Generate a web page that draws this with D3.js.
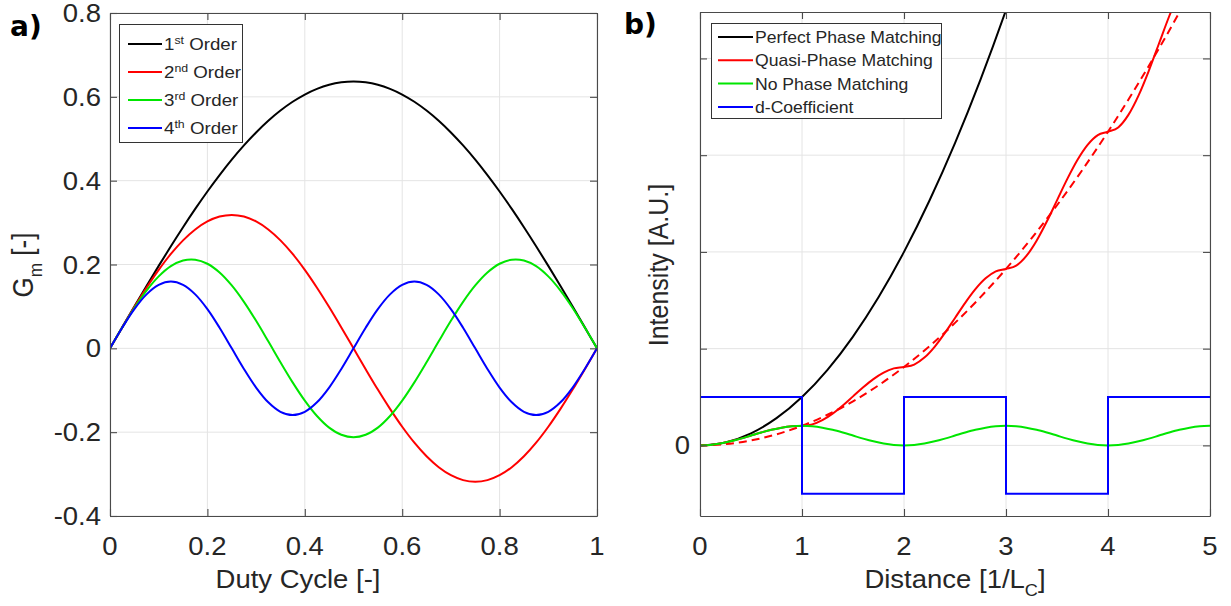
<!DOCTYPE html>
<html><head><meta charset="utf-8">
<script src="https://cdn.jsdelivr.net/npm/d3@7"></script>
<style>body{margin:0;background:#fff;}</style>
</head><body>
<svg id="chart" width="1231" height="606"></svg>
<script>
// ---------- Panel a data ----------
const dutyCycle = [0,0.025,0.05,0.075,0.1,0.125,0.15,0.175,0.2,0.225,0.25,0.275,0.3,0.325,0.35,0.375,0.4,0.425,0.45,0.475,0.5,0.525,0.55,0.575,0.6,0.625,0.65,0.675,0.7,0.725,0.75,0.775,0.8,0.825,0.85,0.875,0.9,0.925,0.95,0.975,1];
const order1 = [0,0.0500,0.0996,0.1486,0.1967,0.2436,0.2890,0.3326,0.3742,0.4134,0.4502,0.4841,0.5150,0.5428,0.5672,0.5882,0.6055,0.6190,0.6288,0.6346,0.6366,0.6346,0.6288,0.6190,0.6055,0.5882,0.5672,0.5428,0.5150,0.4841,0.4502,0.4134,0.3742,0.3326,0.2890,0.2436,0.1967,0.1486,0.0996,0.0500,0];
const order2 = [0,0.0498,0.0984,0.1445,0.1871,0.2251,0.2575,0.2836,0.3027,0.3144,0.3183,0.3144,0.3027,0.2836,0.2575,0.2251,0.1871,0.1445,0.0984,0.0498,0,-0.0498,-0.0984,-0.1445,-0.1871,-0.2251,-0.2575,-0.2836,-0.3027,-0.3144,-0.3183,-0.3144,-0.3027,-0.2836,-0.2575,-0.2251,-0.1871,-0.1445,-0.0984,-0.0498,0];
const order3 = [0,0.0495,0.0963,0.1378,0.1717,0.1961,0.2096,0.2115,0.2018,0.1809,0.1500,0.1109,0.0656,0.0167,-0.0332,-0.0812,-0.1247,-0.1614,-0.1891,-0.2063,-0.2122,-0.2063,-0.1891,-0.1614,-0.1247,-0.0812,-0.0332,0.0167,0.0656,0.1109,0.1500,0.1809,0.2018,0.2115,0.2096,0.1961,0.1717,0.1378,0.0963,0.0495,0];
const order4 = [0,0.0492,0.0936,0.1288,0.1514,0.1592,0.1514,0.1288,0.0936,0.0492,0,-0.0492,-0.0936,-0.1288,-0.1514,-0.1592,-0.1514,-0.1288,-0.0936,-0.0492,0,0.0492,0.0936,0.1288,0.1514,0.1592,0.1514,0.1288,0.0936,0.0492,0,-0.0492,-0.0936,-0.1288,-0.1514,-0.1592,-0.1514,-0.1288,-0.0936,-0.0492,0];
const orderNumbers = ["1","2","3","4"];
const orderSuffixes = ["st","nd","rd","th"];
const dutyTicks = [0,0.2,0.4,0.6,0.8,1];
const dutyTickLabels = ["0","0.2","0.4","0.6","0.8","1"];
const gmTicks = [-0.4,-0.2,0,0.2,0.4,0.6,0.8];
const gmTickLabels = ["-0.4","-0.2","0","0.2","0.4","0.6","0.8"];

// ---------- Panel b data ----------
const distance = [0,0.1,0.2,0.3,0.4,0.5,0.6,0.7,0.8,0.9,1,1.1,1.2,1.3,1.4,1.5,1.6,1.7,1.8,1.9,2,2.1,2.2,2.3,2.4,2.5,2.6,2.7,2.8,2.9,3,3.1,3.2,3.3,3.4,3.5,3.6,3.7,3.8,3.9,4,4.1,4.2,4.3,4.4,4.5,4.6,4.7,4.8,4.9,5];
const quasiPhase = [0,0.0050,0.0194,0.0418,0.0700,0.1013,0.1326,0.1609,0.1833,0.1977,0.2026,0.2175,0.2607,0.3279,0.4127,0.5066,0.6005,0.6853,0.7525,0.7957,0.8106,0.8353,0.9073,1.0194,1.1606,1.3172,1.4737,1.6150,1.7270,1.7990,1.8238,1.8585,1.9592,2.1161,2.3139,2.5330,2.7522,2.9499,3.1068,3.2076,3.2422,3.2869,3.4164,3.6182,3.8724,4.1542,4.4360,4.6902,4.8919,5.0215,5.0660];
const noPhase = [0,0.0050,0.0194,0.0418,0.0700,0.1013,0.1326,0.1609,0.1833,0.1977,0.2026,0.1977,0.1833,0.1609,0.1326,0.1013,0.0700,0.0418,0.0194,0.0050,0,0.0050,0.0194,0.0418,0.0700,0.1013,0.1326,0.1609,0.1833,0.1977,0.2026,0.1977,0.1833,0.1609,0.1326,0.1013,0.0700,0.0418,0.0194,0.0050,0,0.0050,0.0194,0.0418,0.0700,0.1013,0.1326,0.1609,0.1833,0.1977,0.2026];
const distanceCoarse = [0,0.25,0.5,0.75,1,1.25,1.5,1.75,2,2.25,2.5,2.75,3,3.25,3.5,3.75,4,4.25,4.5,4.75,5];
const perfectPhase = [0,0.03125,0.125,0.28125,0.5,0.78125,1.125,1.53125,2,2.53125,3.125,3.78125,4.5,5.28125,6.125,7.03125,8,9.03125,10.125,11.28125,12.5];
const quasiTrend = [0,0.0127,0.0507,0.1140,0.2026,0.3166,0.4559,0.6206,0.8106,1.0259,1.2665,1.5325,1.8238,2.1404,2.4823,2.8496,3.2422,3.6602,4.1035,4.5721,5.0660];
const dEdges = [0,1,2,3,4,5];
const dCoefficient = [0.5,-0.5,0.5,-0.5,0.5,0.5];
const distTicks = [0,1,2,3,4,5];
const distTickLabels = ["0","1","2","3","4","5"];
const intTicks = [0,1,2,3,4];
const intTickLabels = ["0","","","",""];
const legendB = ["Perfect Phase Matching","Quasi-Phase Matching","No Phase Matching","d-Coefficient"];

// ---------- drawing ----------
const svg = d3.select("#chart");
const FONT = '"Liberation Sans", Arial, Helvetica, sans-serif';
const SX = 1.1;
const TXT = "#262626";

function label(g, x, y, parts, size, anchor, rot) {
  const t = g.append("text")
    .attr("transform", `translate(${x},${y}) scale(${SX},1)` + (rot ? " rotate(-90)" : ""))
    .attr("text-anchor", anchor || "start")
    .attr("font-family", FONT).attr("font-size", size).attr("fill", TXT);
  let cur = 0;
  parts.forEach(([s, k]) => {
    const target = k === 1 ? -size * 0.38 : k === -1 ? size * 0.3 : 0;
    t.append("tspan").attr("dy", target - cur).attr("font-size", k ? size * 0.66 : size).text(s);
    cur = target;
  });
  return t;
}

function frame(g, x, y, xT, yT) {
  const [xa, xb] = x.range();
  const [yb, ya] = y.range();
  const grid = g.append("g");
  grid.selectAll(".gx").data(xT).join("line")
    .attr("x1", d => x(d)).attr("x2", d => x(d)).attr("y1", ya).attr("y2", yb)
    .attr("stroke", "#e4e4e4").attr("stroke-width", 1);
  grid.selectAll(".gy").data(yT).join("line")
    .attr("x1", xa).attr("x2", xb).attr("y1", d => y(d)).attr("y2", d => y(d))
    .attr("stroke", "#e4e4e4").attr("stroke-width", 1);
}

function axes(g, x, y, xT, yT) {
  const [xa, xb] = x.range();
  const [yb, ya] = y.range();
  const mk = (a) => a.tickSize(-7).tickSizeOuter(0).tickFormat("");
  const parts = [
    g.append("g").attr("transform", `translate(0,${yb})`).call(mk(d3.axisBottom(x).tickValues(xT))),
    g.append("g").attr("transform", `translate(0,${ya})`).call(mk(d3.axisTop(x).tickValues(xT))),
    g.append("g").attr("transform", `translate(${xa},0)`).call(mk(d3.axisLeft(y).tickValues(yT))),
    g.append("g").attr("transform", `translate(${xb},0)`).call(mk(d3.axisRight(y).tickValues(yT)))
  ];
  parts.forEach(p => p.selectAll("path,line").attr("stroke", "#4a4a4a").attr("stroke-width", 1.1));
}

// ===== Panel a =====
const xA = d3.scaleLinear().domain([0, 1]).range([110, 597]);
const yA = d3.scaleLinear().domain([-0.4, 0.8]).range([516, 13]);
const gA = svg.append("g");
gA.append("clipPath").attr("id", "clipA").append("rect")
  .attr("x", 110).attr("y", 13).attr("width", 487).attr("height", 503);
frame(gA, xA, yA, dutyTicks, gmTicks);
const lineA = (ys) => d3.line().x((d, i) => xA(dutyCycle[i])).y(d => yA(d)).curve(d3.curveCatmullRom)(ys);
const seriesA = [[order1, "#000000"], [order2, "#ff0000"], [order3, "#00e600"], [order4, "#0000ff"]];
const cA = gA.append("g").attr("clip-path", "url(#clipA)");
seriesA.forEach(([ys, c]) => cA.append("path").attr("d", lineA(ys)).attr("fill", "none").attr("stroke", c).attr("stroke-width", 2));
axes(gA, xA, yA, dutyTicks, gmTicks);

dutyTicks.forEach((v, i) => label(gA, xA(v), 555, [[dutyTickLabels[i], 0]], 25, "middle"));
gmTicks.forEach((v, i) => label(gA, 101, yA(v) + 9, [[gmTickLabels[i], 0]], 25, "end"));
label(gA, 298, 588, [["Duty Cycle [-]", 0]], 25, "middle");
label(gA, 33, 265, [["G", 0], ["m", -1], [" [-]", 0]], 26, "middle", true);

// legend a
const legA = gA.append("g");
legA.append("rect").attr("x", 119.5).attr("y", 24.5).attr("width", 123).attr("height", 118)
  .attr("fill", "#fff").attr("stroke", "#333").attr("stroke-width", 1);
seriesA.forEach(([ys, c], i) => {
  const yy = 44 + i * 28;
  legA.append("line").attr("x1", 128).attr("x2", 162).attr("y1", yy).attr("y2", yy).attr("stroke", c).attr("stroke-width", 2);
  label(legA, 164, yy + 6, [[orderNumbers[i], 0], [orderSuffixes[i], 1], [" Order", 0]], 17, "start");
});

// ===== Panel b =====
const xB = d3.scaleLinear().domain([0, 5]).range([700, 1210]);
const yB = d3.scaleLinear().domain([-0.73, 4.48]).range([516, 12]);
const gB = svg.append("g");
gB.append("clipPath").attr("id", "clipB").append("rect")
  .attr("x", 700).attr("y", 12).attr("width", 510).attr("height", 504);
frame(gB, xB, yB, distTicks, intTicks);
const cB = gB.append("g").attr("clip-path", "url(#clipB)");
const lineB = (xs, ys, curve) => d3.line().x((d, i) => xB(xs[i])).y(d => yB(d)).curve(curve)(ys);
cB.append("path").attr("d", lineB(distanceCoarse, perfectPhase, d3.curveMonotoneX)).attr("fill", "none").attr("stroke", "#000").attr("stroke-width", 2);
cB.append("path").attr("d", lineB(distance, quasiPhase, d3.curveMonotoneX)).attr("fill", "none").attr("stroke", "#ff0000").attr("stroke-width", 2);
cB.append("path").attr("d", lineB(distanceCoarse, quasiTrend, d3.curveMonotoneX)).attr("fill", "none").attr("stroke", "#ff0000").attr("stroke-width", 2).attr("stroke-dasharray", "8,5");
cB.append("path").attr("d", lineB(distance, noPhase, d3.curveCatmullRom)).attr("fill", "none").attr("stroke", "#00e600").attr("stroke-width", 2);
cB.append("path").attr("d", lineB(dEdges, dCoefficient, d3.curveStepAfter)).attr("fill", "none").attr("stroke", "#0000ff").attr("stroke-width", 2);
axes(gB, xB, yB, distTicks, intTicks);

distTicks.forEach((v, i) => label(gB, xB(v), 555, [[distTickLabels[i], 0]], 25, "middle"));
intTicks.forEach((v, i) => { if (intTickLabels[i]) label(gB, 690, yB(v) + 9, [[intTickLabels[i], 0]], 25, "end"); });
label(gB, 955, 588, [["Distance [1/L", 0], ["C", -1], ["]", 0]], 25, "middle");
label(gB, 668, 265, [["Intensity [A.U.]", 0]], 25, "middle", true);

// legend b
const legB = gB.append("g");
legB.append("rect").attr("x", 711.5).attr("y", 23.5).attr("width", 230).attr("height", 95)
  .attr("fill", "#fff").attr("stroke", "#333").attr("stroke-width", 1);
const legColors = ["#000000", "#ff0000", "#00e600", "#0000ff"];
legendB.forEach((s, i) => {
  const yy = 37 + i * 23.3;
  legB.append("line").attr("x1", 718).attr("x2", 753).attr("y1", yy).attr("y2", yy).attr("stroke", legColors[i]).attr("stroke-width", 2);
  label(legB, 755, yy + 6, [[s, 0]], 16, "start");
});

// panel labels
svg.append("text").attr("x", 10).attr("y", 36).attr("font-family", '"DejaVu Sans", Verdana, sans-serif').attr("font-weight", "bold").attr("font-size", 28).attr("fill", "#000").text("a)");
svg.append("text").attr("x", 624).attr("y", 34).attr("font-family", '"DejaVu Sans", Verdana, sans-serif').attr("font-weight", "bold").attr("font-size", 28).attr("fill", "#000").text("b)");
</script>
</body></html>
